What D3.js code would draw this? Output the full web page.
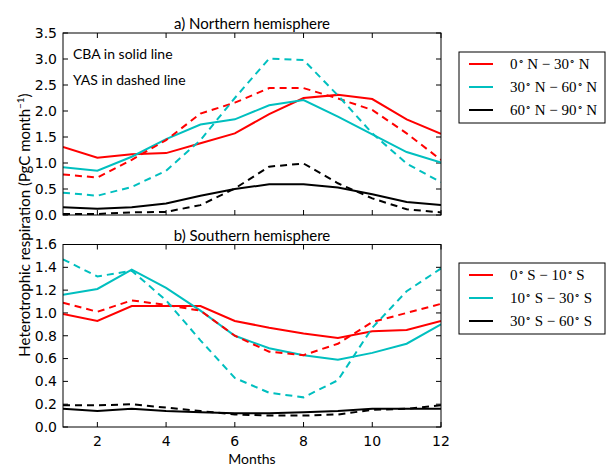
<!DOCTYPE html>
<html>
<head>
<meta charset="utf-8">
<script src="https://cdn.jsdelivr.net/npm/d3@7"></script>
<style>
  body { margin: 0; background: #fff; }
  svg text { fill: #000; }
</style>
</head>
<body>
<div class="plot-container"></div>
<script>
// months on the x axis
const months = [1, 2, 3, 4, 5, 6, 7, 8, 9, 10, 11, 12];
const xTicks = [2, 4, 6, 8, 10, 12];

// a) Northern hemisphere, CBA (solid) and YAS (dashed)
const north0to30Cba = [1.31, 1.10, 1.17, 1.19, 1.38, 1.57, 1.94, 2.25, 2.31, 2.23, 1.84, 1.56];
const north30to60Cba = [0.92, 0.85, 1.12, 1.46, 1.74, 1.84, 2.11, 2.21, 1.89, 1.55, 1.21, 1.01];
const north60to90Cba = [0.15, 0.12, 0.15, 0.22, 0.37, 0.50, 0.59, 0.59, 0.53, 0.40, 0.25, 0.19];
const north0to30Yas = [0.78, 0.72, 1.06, 1.44, 1.95, 2.16, 2.44, 2.44, 2.24, 2.02, 1.57, 1.06];
const north30to60Yas = [0.43, 0.37, 0.54, 0.85, 1.44, 2.25, 3.01, 2.98, 2.30, 1.57, 0.99, 0.63];
const north60to90Yas = [0.02, 0.02, 0.05, 0.06, 0.19, 0.51, 0.93, 0.99, 0.61, 0.32, 0.11, 0.05];

// b) Southern hemisphere
const south0to10Cba = [0.99, 0.93, 1.06, 1.06, 1.06, 0.93, 0.87, 0.82, 0.78, 0.84, 0.85, 0.93];
const south10to30Cba = [1.16, 1.21, 1.38, 1.22, 1.02, 0.80, 0.69, 0.63, 0.59, 0.65, 0.73, 0.90];
const south30to60Cba = [0.16, 0.14, 0.16, 0.14, 0.13, 0.12, 0.12, 0.13, 0.14, 0.16, 0.16, 0.16];
const south0to10Yas = [1.09, 1.01, 1.11, 1.07, 1.02, 0.80, 0.66, 0.63, 0.73, 0.92, 1.00, 1.08];
const south10to30Yas = [1.47, 1.32, 1.37, 1.11, 0.76, 0.43, 0.30, 0.26, 0.41, 0.87, 1.19, 1.39];
const south30to60Yas = [0.19, 0.19, 0.20, 0.17, 0.14, 0.11, 0.10, 0.10, 0.11, 0.15, 0.16, 0.19];

const northTicks = [0.0, 0.5, 1.0, 1.5, 2.0, 2.5, 3.0, 3.5];
const southTicks = [0.0, 0.2, 0.4, 0.6, 0.8, 1.0, 1.2, 1.4, 1.6];

const northLabels = [["0", "N", "30", "N"], ["30", "N", "60", "N"], ["60", "N", "90", "N"]];
const southLabels = [["0", "S", "10", "S"], ["10", "S", "30", "S"], ["30", "S", "60", "S"]];
const colors = ["#ff0000", "#00bfbf", "#000000"];

const W = 607, H = 468;
const left = 63, right = 441;

const svg = d3.select("div.plot-container")
  .append("svg")
  .attr("width", W)
  .attr("height", H);

const x = d3.scaleLinear().domain([1, 12]).range([left, right]);

// *************************************
// ONE PANEL
// *************************************
function drawPanel(opts) {
  const y = d3.scaleLinear().domain(opts.domain).range([opts.bottom, opts.top]);
  const g = svg.append("g");

  // inward ticks on all four sides
  const tickLen = 5;
  g.selectAll(".yt").data(opts.yTicks).join("line")
    .attr("x1", left).attr("x2", left + tickLen)
    .attr("y1", d => y(d)).attr("y2", d => y(d))
    .attr("stroke", "#000");
  g.selectAll(".yt2").data(opts.yTicks).join("line")
    .attr("x1", right).attr("x2", right - tickLen)
    .attr("y1", d => y(d)).attr("y2", d => y(d))
    .attr("stroke", "#000");
  g.selectAll(".xt").data(xTicks).join("line")
    .attr("x1", d => x(d)).attr("x2", d => x(d))
    .attr("y1", opts.bottom).attr("y2", opts.bottom - tickLen)
    .attr("stroke", "#000");
  g.selectAll(".xt2").data(xTicks).join("line")
    .attr("x1", d => x(d)).attr("x2", d => x(d))
    .attr("y1", opts.top).attr("y2", opts.top + tickLen)
    .attr("stroke", "#000");

  // y tick labels
  g.selectAll(".yl").data(opts.yTicks).join("text")
    .attr("x", left - 6)
    .attr("y", d => y(d))
    .attr("dy", "0.35em")
    .attr("text-anchor", "end")
    .style("font-family", "DejaVu Sans")
    .style("font-size", "14px")
    .text(d => d.toFixed(1));

  const line = d3.line().x((d, i) => x(months[i])).y(d => y(d));
  const clip = "clip" + opts.id;
  svg.append("clipPath").attr("id", clip)
    .append("rect").attr("x", left).attr("y", opts.top)
    .attr("width", right - left).attr("height", opts.bottom - opts.top);

  const lines = g.append("g").attr("clip-path", `url(#${clip})`);
  opts.solid.forEach((s, i) => {
    lines.append("path").datum(s).attr("d", line)
      .attr("fill", "none").attr("stroke", colors[i]).attr("stroke-width", 2);
  });
  opts.dashed.forEach((s, i) => {
    lines.append("path").datum(s).attr("d", line)
      .attr("fill", "none").attr("stroke", colors[i]).attr("stroke-width", 2)
      .attr("stroke-dasharray", "7,5");
  });

  // frame
  g.append("rect")
    .attr("x", left).attr("y", opts.top)
    .attr("width", right - left).attr("height", opts.bottom - opts.top)
    .attr("fill", "none").attr("stroke", "#000").attr("stroke-width", 1);

  // title
  g.append("text")
    .attr("x", (left + right) / 2).attr("y", opts.top - 4)
    .attr("text-anchor", "middle")
    .style("font-family", "Lato")
    .style("font-size", "15px")
    .text(opts.title);

  // legend
  const lg = g.append("g").attr("transform", `translate(459,${opts.legendTop})`);
  lg.append("rect").attr("width", 146).attr("height", 71)
    .attr("fill", "#fff").attr("stroke", "#000").attr("stroke-width", 1);
  opts.labels.forEach((lab, i) => {
    const ly = 12 + i * 23;
    lg.append("line").attr("x1", 10).attr("x2", 34).attr("y1", ly).attr("y2", ly)
      .attr("stroke", colors[i]).attr("stroke-width", 2);
    const t = lg.append("text").attr("x", 51).attr("y", ly).attr("dy", "0.35em")
      .style("font-family", "Liberation Serif").style("font-size", "15px");
    t.append("tspan").text(lab[0]);
    t.append("tspan").attr("dy", "-5").style("font-size", "10px").text("\u2218");
    t.append("tspan").attr("dy", "5").text(" " + lab[1] + " \u2212 " + lab[2]);
    t.append("tspan").attr("dy", "-5").style("font-size", "10px").text("\u2218");
    t.append("tspan").attr("dy", "5").text(" " + lab[3]);
  });

  return { g, y };
}

const north = drawPanel({
  id: "n", top: 33, bottom: 215, domain: [0, 3.5], yTicks: northTicks,
  solid: [north0to30Cba, north30to60Cba, north60to90Cba],
  dashed: [north0to30Yas, north30to60Yas, north60to90Yas],
  title: "a) Northern hemisphere", labels: northLabels, legendTop: 52
});

north.g.append("text").attr("x", 73).attr("y", 59)
  .style("font-family", "Lato").style("font-size", "14px")
  .text("CBA in solid line");
north.g.append("text").attr("x", 73).attr("y", 85)
  .style("font-family", "Lato").style("font-size", "14px")
  .text("YAS in dashed line");

const south = drawPanel({
  id: "s", top: 244.5, bottom: 427, domain: [0, 1.6], yTicks: southTicks,
  solid: [south0to10Cba, south10to30Cba, south30to60Cba],
  dashed: [south0to10Yas, south10to30Yas, south30to60Yas],
  title: "b) Southern hemisphere", labels: southLabels, legendTop: 263
});

// x tick labels (bottom panel only)
svg.selectAll(".xl").data(xTicks).join("text")
  .attr("x", d => x(d)).attr("y", 446)
  .attr("text-anchor", "middle")
  .style("font-family", "DejaVu Sans")
  .style("font-size", "14px")
  .text(d => d);

svg.append("text").attr("x", (left + right) / 2).attr("y", 464)
  .attr("text-anchor", "middle")
  .style("font-family", "Lato").style("font-size", "14px")
  .text("Months");

// shared y label
const yl = svg.append("text")
  .attr("transform", "translate(30,225) rotate(-90)")
  .attr("text-anchor", "middle")
  .style("font-family", "Lato").style("font-size", "15px");
yl.append("tspan").text("Heterotrophic respiration (PgC month");
yl.append("tspan").attr("dy", "-6").style("font-size", "10px").text("\u22121");
yl.append("tspan").attr("dy", "6").text(")");
</script>
</body>
</html>
